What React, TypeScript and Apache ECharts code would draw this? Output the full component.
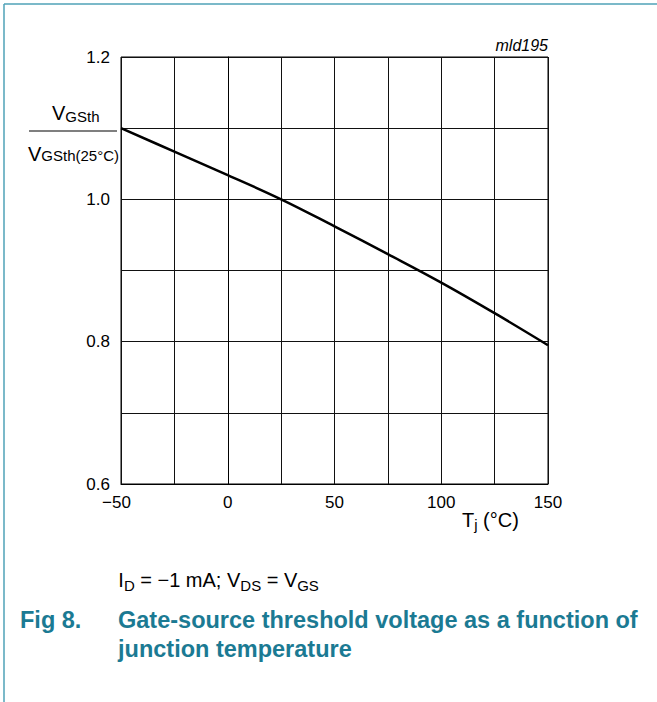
import React, { useEffect, useRef } from "react";
import * as echarts from "echarts";

const tempC = [-50, -25, 0, 25, 50, 75, 100, 125, 150];
const ratio = [1.1, 1.067, 1.034, 1.0, 0.962, 0.923, 0.883, 0.84, 0.795];
const xTicks = [-50, 0, 50, 100, 150];
const yTicks = [0.6, 0.8, 1.0, 1.2];

const TEAL = "#1b7a93";
const FONT = "Liberation Sans, Arial, sans-serif";

function txt(x: number, y: number, text: string, size: number, extra: any = {}) {
  return {
    type: "text",
    x,
    y,
    style: {
      text,
      font: `${extra.weight || ""} ${extra.italic ? "italic" : ""} ${size}px ${FONT}`.trim(),
      fill: extra.fill || "#000",
      align: extra.align || "left",
      verticalAlign: "middle",
    },
  };
}

export default function App() {
  const ref = useRef<HTMLDivElement>(null);
  useEffect(() => {
    if (!ref.current) return;
    const chart = echarts.init(ref.current, null, { renderer: "svg" });
    const gl = 121, gt = 57, gw = 427, gh = 427;
    chart.setOption({
      animation: false,
      backgroundColor: "#ffffff",
      grid: { left: gl, top: gt, width: gw, height: gh, show: true, borderColor: "#000", borderWidth: 1 },
      xAxis: {
        type: "value",
        min: -50,
        max: 150,
        interval: 25,
        axisLine: { show: true, lineStyle: { color: "#000", width: 1 } },
        axisTick: { show: false },
        splitLine: { show: true, lineStyle: { color: "#111", width: 1 } },
        axisLabel: {
          color: "#000",
          fontFamily: FONT,
          fontSize: 17,
          margin: 10,
          formatter: (v: number) => {
            const r = Math.round(v);
            if (xTicks.indexOf(r) < 0) return "";
            if (r < 0) return "{n|" + String(r).replace("-", "\u2212") + "}";
            return String(r);
          },
          rich: { n: { fontFamily: FONT, fontSize: 17, color: "#000", padding: [0, 9, 0, 0] } },
        },
      },
      yAxis: {
        type: "value",
        min: 0.6,
        max: 1.2,
        interval: 0.1,
        axisLine: { show: true, lineStyle: { color: "#000", width: 1 } },
        axisTick: { show: false },
        splitLine: { show: true, lineStyle: { color: "#111", width: 1 } },
        axisLabel: {
          color: "#000",
          fontFamily: FONT,
          fontSize: 17,
          margin: 11,
          formatter: (v: number) => {
            const r = Math.round(v * 10) / 10;
            return yTicks.some((t) => Math.abs(t - r) < 1e-6) ? r.toFixed(1) : "";
          },
        },
      },
      series: [
        {
          type: "line",
          data: tempC.map((t, i) => [t, ratio[i]]),
          smooth: 0.4,
          showSymbol: false,
          lineStyle: { color: "#000", width: 2.5 },
          z: 5,
        },
      ],
      graphic: [
        { type: "line", shape: { x1: 4, y1: 4, x2: 657, y2: 4 }, style: { stroke: "#4fa2b7", lineWidth: 1.5 } },
        { type: "line", shape: { x1: 4, y1: 4, x2: 4, y2: 702 }, style: { stroke: "#4fa2b7", lineWidth: 1.5 } },
        txt(548, 45, "mld195", 16, { italic: true, align: "right" }),
        // y-axis fraction label
        txt(52, 112.5, "V", 20),
        txt(65.3, 116.4, "GSth", 15),
        { type: "line", shape: { x1: 29, y1: 131, x2: 117, y2: 131 }, style: { stroke: "#000", lineWidth: 1.2 } },
        txt(28, 154, "V", 20),
        txt(41.3, 155.5, "GSth(25°C)", 15),
        // x-axis title
        txt(462, 519.7, "T", 20),
        txt(474.2, 524, "j", 15),
        txt(477.5, 519.7, " (°C)", 20),
        // conditions
        txt(118.3, 580, "I", 20),
        txt(123.9, 585, "D", 15),
        txt(134.7, 580, " = \u22121 mA; V", 20),
        txt(240.3, 585, "DS", 15),
        txt(261.1, 580, " = V", 20),
        txt(297.2, 585, "GS", 15),
        // caption
        txt(20, 620, "Fig 8.", 23.5, { weight: "bold", fill: TEAL }),
        txt(118, 620, "Gate-source threshold voltage as a function of", 23.5, { weight: "bold", fill: TEAL }),
        txt(118, 648.5, "junction temperature", 23.5, { weight: "bold", fill: TEAL }),
      ],
    });
    return () => chart.dispose();
  }, []);
  return (
    <div
      ref={ref}
      style={{ position: "fixed", left: 0, top: 0, width: 657, height: 702, background: "#fff" }}
    />
  );
}
